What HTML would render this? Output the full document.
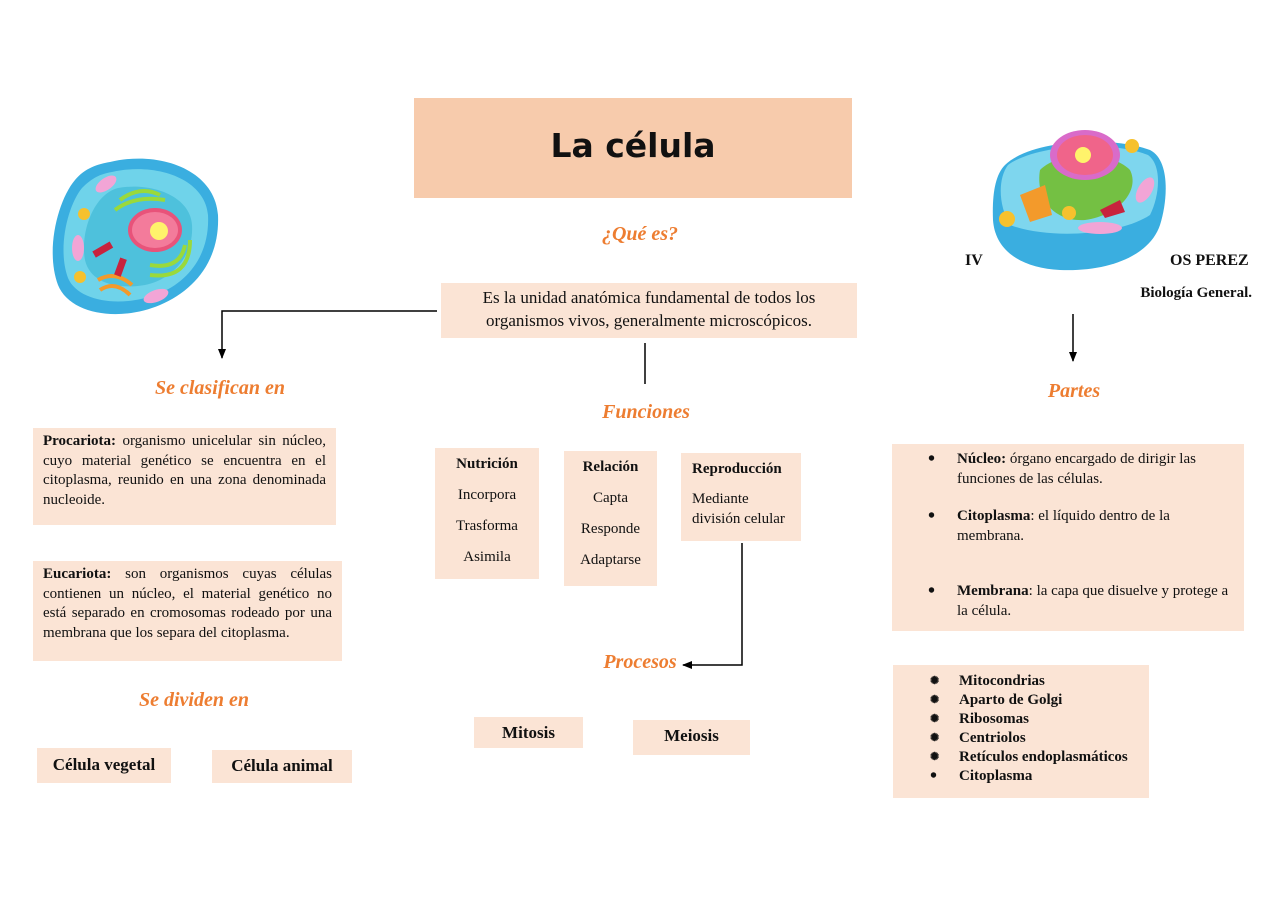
<!DOCTYPE html>
<html><head><meta charset="utf-8"><style>
body{margin:0;width:1280px;height:905px;background:#fff;position:relative;overflow:hidden;font-family:"Liberation Serif",serif;color:#111}
.a{position:absolute}
.bx{position:absolute;background:#fbe4d5}
.or{position:absolute;color:#ed7d31;font-style:italic;font-weight:bold;font-size:20px;white-space:nowrap;transform:translateX(-50%)}
.j{font-size:15px;line-height:19.5px;text-align:justify;text-align-last:left}
.c{text-align:center;font-size:15px}
.bl{font-size:20px;font-weight:bold;line-height:19px}
</style></head><body>
<div class="a" style="left:414px;top:98px;width:438px;height:100px;background:#f7cbac"></div>
<div class="a" style="left:414px;top:126px;width:438px;text-align:center;font-family:'DejaVu Sans',sans-serif;font-weight:bold;font-size:33px">La célula</div>
<div class="or" style="left:640px;top:223px">¿Qué es?</div>
<div class="bx" style="left:441px;top:283px;width:416px;height:55px"></div>
<div class="a" style="left:441px;top:286px;width:416px;text-align:center;font-size:17px;line-height:23px">Es la unidad anatómica fundamental de todos los<br>organismos vivos, generalmente microscópicos.</div>

<svg class="a" style="left:0;top:0" width="1280" height="905">
<defs><marker id="m" markerWidth="10" markerHeight="10" refX="9" refY="5" orient="auto" markerUnits="userSpaceOnUse"><path d="M0,1 L10,5 L0,9z" fill="#000"/></marker></defs>
<g stroke="#000" stroke-width="1.5" fill="none">
<polyline points="437,311 222,311 222,358" marker-end="url(#m)"/>
<line x1="645" y1="343" x2="645" y2="384"/>
<polyline points="742,543 742,665 683,665" marker-end="url(#m)"/>
<line x1="1073" y1="314" x2="1073" y2="361" marker-end="url(#m)"/>
</g>
<g>
<path d="M110,162 C160,150 215,170 218,215 C220,260 195,290 160,305 C120,322 70,315 58,285 C45,250 58,200 75,180 C85,168 98,164 110,162z" fill="#3aaee0"/>
<path d="M112,172 C155,162 205,178 208,215 C210,255 188,282 158,294 C122,308 78,302 68,278 C57,248 68,205 82,188 C92,178 100,174 112,172z" fill="#6fd3ea"/>
<path d="M118,188 C150,182 190,195 192,225 C194,258 170,280 145,285 C115,290 90,282 85,260 C80,235 92,195 118,188z" fill="#4ec1dc"/>
<ellipse cx="155" cy="230" rx="27" ry="22" fill="#e8537a"/>
<ellipse cx="155" cy="230" rx="23" ry="18" fill="#f37b9b"/>
<circle cx="159" cy="231" r="9" fill="#fff36b"/>
<path d="M120,200 Q140,185 160,195 M115,210 Q135,195 165,200 M185,245 Q180,270 150,265 M190,240 Q190,280 150,275" stroke="#9ad93b" stroke-width="4" fill="none"/>
<path d="M100,290 Q115,280 130,295 M98,280 Q115,270 132,285" stroke="#f39a2b" stroke-width="4" fill="none"/>
<rect x="93" y="246" width="20" height="7" fill="#c8233d" transform="rotate(-30 103 250)"/>
<rect x="117" y="258" width="7" height="18" fill="#c8233d" transform="rotate(20 120 267)"/>
<circle cx="84" cy="214" r="6" fill="#f6c12d"/><circle cx="80" cy="277" r="6" fill="#f6c12d"/>
<ellipse cx="106" cy="184" rx="12" ry="6" fill="#f2a5d6" transform="rotate(-35 106 184)"/>
<ellipse cx="78" cy="248" rx="6" ry="13" fill="#f2a5d6"/>
<ellipse cx="156" cy="296" rx="13" ry="6" fill="#f2a5d6" transform="rotate(-20 156 296)"/>
</g>
<g>
<path d="M1005,165 C1030,140 1110,135 1150,150 C1170,160 1168,200 1160,225 C1150,255 1110,272 1060,270 C1020,268 995,250 993,220 C992,195 995,175 1005,165z" fill="#3aaee0"/>
<path d="M1008,165 C1035,145 1110,140 1148,155 C1162,165 1160,195 1150,215 C1120,235 1050,240 1010,225 C998,205 998,178 1008,165z" fill="#7ed6ee"/>
<path d="M1040,170 C1060,150 1110,150 1130,170 C1140,190 1120,215 1085,220 C1055,222 1035,200 1040,170z" fill="#74c043"/>
<ellipse cx="1085" cy="155" rx="35" ry="25" fill="#d96bc9"/>
<ellipse cx="1085" cy="155" rx="28" ry="20" fill="#f0648a"/>
<circle cx="1083" cy="155" r="8" fill="#fff36b"/>
<path d="M1020,195 L1045,185 L1052,215 L1030,222z" fill="#f39a2b"/>
<circle cx="1007" cy="219" r="8" fill="#f6c12d"/><circle cx="1069" cy="213" r="7" fill="#f6c12d"/><circle cx="1132" cy="146" r="7" fill="#f6c12d"/>
<path d="M1100,210 L1120,200 L1125,212 L1105,218z" fill="#c8233d"/>
<ellipse cx="1100" cy="228" rx="22" ry="6" fill="#f2a5d6"/>
<ellipse cx="1145" cy="190" rx="7" ry="14" fill="#f2a5d6" transform="rotate(30 1145 190)"/>
</g>
</svg>

<div class="a" style="left:965px;top:252px;font-weight:bold;font-size:16px">IV</div>
<div class="a" style="left:1170px;top:252px;font-weight:bold;font-size:16px">OS PEREZ</div>
<div class="a" style="left:1100px;top:285px;width:152px;text-align:right;font-weight:bold;font-size:15px">Biología General.</div>

<div class="or" style="left:220px;top:377px">Se clasifican en</div>
<div class="or" style="left:646px;top:401px">Funciones</div>
<div class="or" style="left:1074px;top:380px">Partes</div>
<div class="or" style="left:194px;top:689px">Se dividen en</div>
<div class="or" style="left:640px;top:651px">Procesos</div>

<div class="bx" style="left:33px;top:428px;width:303px;height:97px"></div>
<div class="a j" style="left:43px;top:432px;width:283px"><b>Procariota:</b> organismo unicelular sin núcleo, cuyo material genético se encuentra en el citoplasma, reunido en una zona denominada nucleoide.</div>
<div class="bx" style="left:33px;top:561px;width:309px;height:100px"></div>
<div class="a j" style="left:43px;top:565px;width:289px"><b>Eucariota:</b> son organismos cuyas células contienen un núcleo, el material genético no está separado en cromosomas rodeado por una membrana que los separa del citoplasma.</div>

<div class="bx" style="left:37px;top:748px;width:134px;height:35px"></div>
<div class="a" style="left:37px;top:755px;width:134px;text-align:center;font-weight:bold;font-size:17px">Célula vegetal</div>
<div class="bx" style="left:212px;top:750px;width:140px;height:33px"></div>
<div class="a" style="left:212px;top:756px;width:140px;text-align:center;font-weight:bold;font-size:17px">Célula animal</div>

<div class="bx" style="left:435px;top:448px;width:104px;height:131px"></div>
<div class="a c" style="left:435px;top:449px;width:104px;line-height:31px"><b>Nutrición</b><br>Incorpora<br>Trasforma<br>Asimila</div>
<div class="bx" style="left:564px;top:451px;width:93px;height:135px"></div>
<div class="a c" style="left:564px;top:452px;width:93px;line-height:31px"><b>Relación</b><br>Capta<br>Responde<br>Adaptarse</div>
<div class="bx" style="left:681px;top:453px;width:120px;height:88px"></div>
<div class="a" style="left:692px;top:459px;font-size:15px;line-height:20px"><b>Reproducción</b><div style="height:10px"></div>Mediante<br>división celular</div>

<div class="bx" style="left:474px;top:717px;width:109px;height:31px"></div>
<div class="a" style="left:474px;top:723px;width:109px;text-align:center;font-weight:bold;font-size:17px">Mitosis</div>
<div class="bx" style="left:633px;top:720px;width:117px;height:35px"></div>
<div class="a" style="left:633px;top:726px;width:117px;text-align:center;font-weight:bold;font-size:17px">Meiosis</div>

<div class="bx" style="left:892px;top:444px;width:352px;height:187px"></div>
<div class="a" style="left:892px;top:450px;width:352px;font-size:15px;line-height:19.5px">
<div class="a bl" style="left:36px;top:0">•</div><div class="a" style="left:65px;top:0;width:280px"><b>Núcleo:</b> órgano encargado de dirigir las funciones de las células.</div>
<div class="a bl" style="left:36px;top:57px">•</div><div class="a" style="left:65px;top:57px;width:280px"><b>Citoplasma</b>: el líquido dentro de la membrana.</div>
<div class="a bl" style="left:36px;top:132px">•</div><div class="a" style="left:65px;top:132px;width:285px"><b>Membrana</b>: la capa que disuelve y protege a la célula.</div>
</div>

<div class="bx" style="left:893px;top:665px;width:256px;height:133px"></div>
<div class="a" style="left:893px;top:672px;font-size:15px;line-height:19px;font-weight:bold">
<div class="a" style="left:37px;top:0;font-size:11px">✺</div><div class="a" style="left:66px;top:0;white-space:nowrap">Mitocondrias</div>
<div class="a" style="left:37px;top:19px;font-size:11px">✺</div><div class="a" style="left:66px;top:19px;white-space:nowrap">Aparto de Golgi</div>
<div class="a" style="left:37px;top:38px;font-size:11px">✺</div><div class="a" style="left:66px;top:38px;white-space:nowrap">Ribosomas</div>
<div class="a" style="left:37px;top:57px;font-size:11px">✺</div><div class="a" style="left:66px;top:57px;white-space:nowrap">Centriolos</div>
<div class="a" style="left:37px;top:76px;font-size:11px">✺</div><div class="a" style="left:66px;top:76px;white-space:nowrap">Retículos endoplasmáticos</div>
<div class="a bl" style="left:37px;top:95px">•</div><div class="a" style="left:66px;top:95px;white-space:nowrap">Citoplasma</div>
</div>
</body></html>
